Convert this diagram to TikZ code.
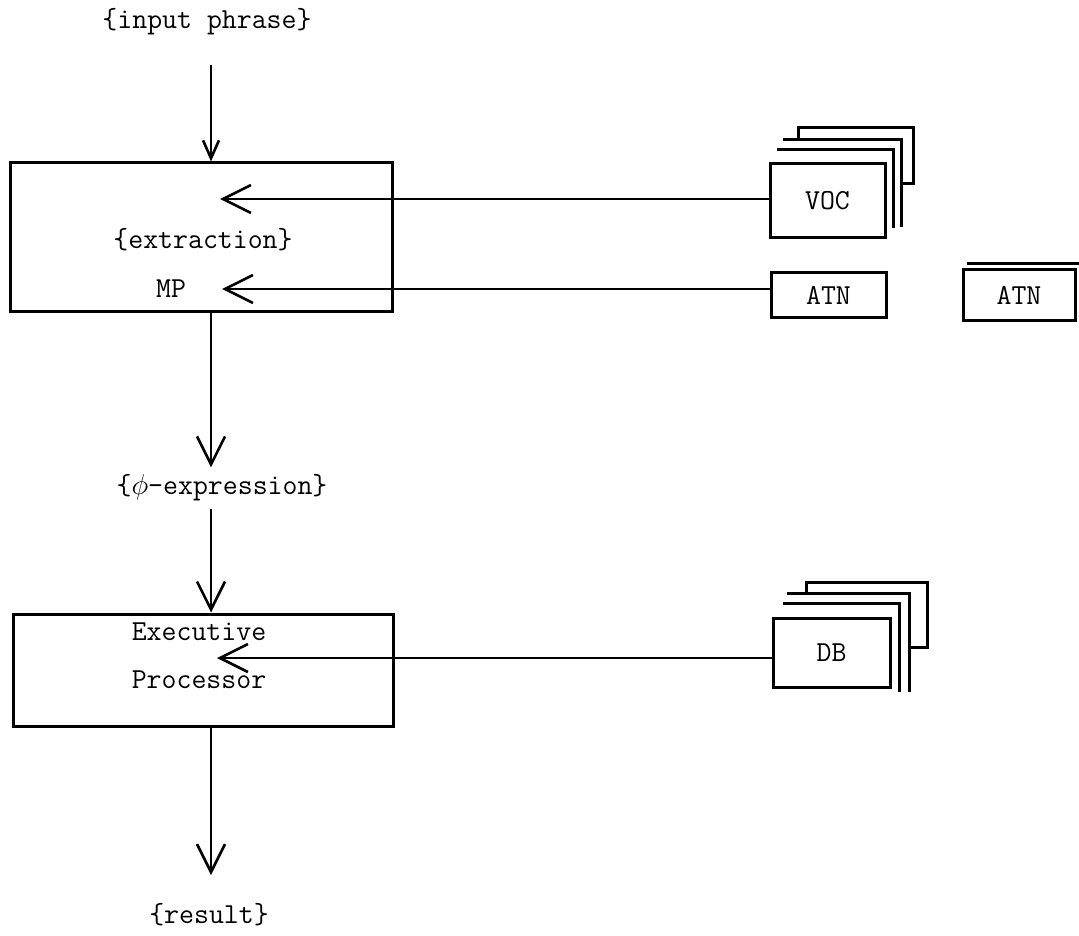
\documentclass[tikz,border=0pt]{standalone}
\usepackage{fontspec}
\usepackage{amsmath}
\usetikzlibrary{arrows.meta}

\begin{document}
\begin{tikzpicture}[x=0.5pt,y=0.5pt,yscale=-1,xscale=1,
  every node/.style={font=\fontsize{14.5pt}{17pt}\ttfamily},
  blk/.style={draw, line width=1.5pt, inner sep=0pt},
  lbl/.style={inner sep=3.5pt},
  arr/.style={line width=1.3pt, -{Straight Barb[length=14pt,width=14pt]}},
  arrs/.style={line width=1.3pt, -{Straight Barb[length=9pt,width=8pt]}},
  stack/.style={line width=1.5pt}]
\useasboundingbox (0,0) rectangle (1079,935);

% Text Node
\node[lbl] (inp) at (207,22) {\{input phrase\}};
% Shape: Rectangle
\node[blk, minimum width=191pt, minimum height=74pt] (mp) at (201,237) {};
% Text Node
\node[lbl] (extr) at (203,240) {\{extraction\}};
% Text Node
\node[lbl, inner sep=0pt, anchor=base] (mpname) at (171,298) {MP};
% Text Node
\node[lbl] (phi) at (222,488) {\{$\phi$-expression\}};
% Shape: Rectangle
\node[blk, minimum width=190pt, minimum height=56pt] (ex) at (203,670) {};
% Text Node
\node[lbl, inner sep=0pt, anchor=base] (exe) at (199,640) {Executive};
% Text Node
\node[lbl, inner sep=0pt, anchor=base] (proc) at (199,688) {Processor};
% Text Node
\node[lbl] (res) at (209,915) {\{result\}};

% Shape: Rectangle
\node[blk, minimum width=57.5pt, minimum height=37pt] (voc) at (827.5,201) {VOC};
\node[blk, minimum width=57.5pt, minimum height=22pt] (atn) at (828.5,295) {ATN};
\node[blk, minimum width=56pt, minimum height=25pt] (atnb) at (1019,295) {ATN};
\node[blk, minimum width=58.5pt, minimum height=34.5pt] (db) at (831.5,652.5) {DB};

%Shape: stacked sheets behind VOC
\draw[stack] (777,150) -- (893,150) -- (893,228);
\draw[stack] (783,140) -- (901,140) -- (901,227);
\draw[stack] (798,140) -- (798,128) -- (913,128) -- (913,184) -- (901,184);
%Shape: stacked sheets behind DB
\draw[stack] (783,603) -- (899,603) -- (899,692);
\draw[stack] (787,593) -- (909,593) -- (909,692);
\draw[stack] (806,593) -- (806,582) -- (927,582) -- (927,647) -- (909,647);
%Straight Lines
\draw[stack] (967,264) -- (1079,264);

\coordinate (col) at (211,0);
\coordinate (inp-out) at (211,65);
\coordinate (res-in) at (211,875);
\coordinate (voc-in) at (220,199);
\coordinate (atn-in) at (222,289);
\coordinate (db-in) at (217,658);

%Straight Lines
\draw[arrs] (inp-out) -- (inp-out |- mp.north);
\draw[arr] (mp.south -| col) -- (phi.north -| col);
\draw[arr] (phi.south -| col) -- (ex.north -| col);
\draw[arr] (ex.south -| col) -- (res-in);
%Straight Lines
\draw[arr] (voc.west |- voc-in) -- (voc-in);
\draw[arr] (atn.west |- atn-in) -- (atn-in);
\draw[arr] (db.west |- db-in) -- (db-in);
\end{tikzpicture}
\end{document}
